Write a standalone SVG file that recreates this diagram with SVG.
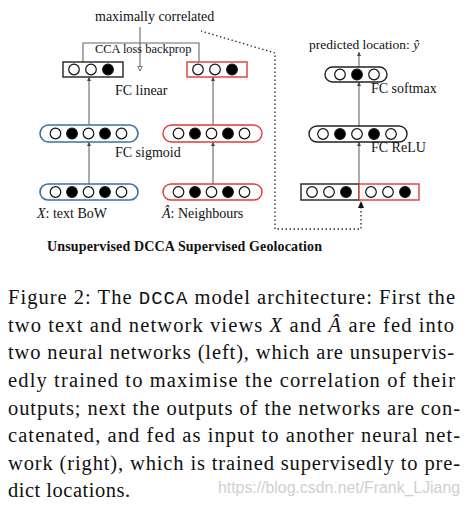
<svg xmlns="http://www.w3.org/2000/svg" width="469" height="506" viewBox="0 0 469 506">
<defs>
<style>
.t{font-family:"Liberation Serif","Times New Roman",serif;fill:#111}
.d{font-size:14px}
.cap{font-size:20.5px}
.mono{font-family:"Liberation Mono","Courier New",monospace;font-size:19px}
.it{font-style:italic}
.blue{fill:#fff;stroke:#3f6fa3;stroke-width:1.6}
.red{fill:#fff;stroke:#e23a3a;stroke-width:1.4}
.blk{fill:#fff;stroke:#222;stroke-width:1.4}
.o{fill:#fff;stroke:#111;stroke-width:1.2}
.f{fill:#000;stroke:#111;stroke-width:1.2}
.ln{stroke:#666;stroke-width:1.1;fill:none}
</style>
<marker id="ah" viewBox="0 0 6 6" refX="6" refY="3" markerWidth="4" markerHeight="4" markerUnits="userSpaceOnUse" orient="auto">
<path d="M0,0 L6,3 L0,6 z" fill="#444"/>
</marker>
<marker id="oh" viewBox="0 0 8 8" refX="7" refY="4" markerWidth="6" markerHeight="6" markerUnits="userSpaceOnUse" orient="auto">
<path d="M1,1 L7,4 L1,7 z" fill="#fff" stroke="#666" stroke-width="1.2"/>
</marker>
</defs>
<rect width="469" height="506" fill="#fff"/>

<g id="connectors">
<polyline class="ln" points="83,62 83,43 199,43 199,62" stroke="#555"/>
<line class="ln" x1="140" y1="27" x2="140" y2="71" marker-end="url(#oh)"/>
<line class="ln" x1="89" y1="184" x2="89" y2="142" marker-end="url(#ah)"/>
<line class="ln" x1="89" y1="125" x2="89" y2="77" marker-end="url(#ah)"/>
<line class="ln" x1="213" y1="184" x2="213" y2="142" marker-end="url(#ah)"/>
<line class="ln" x1="213" y1="125" x2="213" y2="77" marker-end="url(#ah)"/>
<line class="ln" x1="359" y1="184" x2="359" y2="142" marker-end="url(#ah)"/>
<line class="ln" x1="359" y1="126" x2="359" y2="82" marker-end="url(#ah)"/>
<line class="ln" x1="359" y1="67" x2="359" y2="52" marker-end="url(#ah)"/>
<path d="M361,207 L361,229 L275,229 L275,53 L201,31" fill="none" stroke="#222" stroke-width="1.3" stroke-dasharray="1.4 2.6"/>
<path d="M361,201 L364,208 L358,208 z" fill="#111"/>
</g>

<g id="cca-label">
<text class="t d" x="95" y="21">maximally correlated</text>
<text class="t" x="95" y="53" font-size="12.4">CCA loss backprop</text>
</g>

<g id="text-fc-linear">
<rect class="blk" x="63" y="62" width="60" height="15"/>
<circle class="o" cx="74" cy="69.5" r="5.3"/>
<circle class="o" cx="91" cy="69.5" r="5.3"/>
<circle class="f" cx="108" cy="69.5" r="5.3"/>
</g>
<g id="net-fc-linear">
<rect class="red" x="187" y="62" width="60" height="15"/>
<circle class="o" cx="198" cy="69.5" r="5.3"/>
<circle class="o" cx="215" cy="69.5" r="5.3"/>
<circle class="f" cx="232" cy="69.5" r="5.3"/>
</g>
<text class="t d" x="115" y="95">FC linear</text>

<g id="text-fc-sigmoid">
<rect class="blue" x="40" y="125" width="98" height="17" rx="8.5"/>
<circle class="o" cx="55.5" cy="133.5" r="5.3"/>
<circle class="f" cx="72" cy="133.5" r="5.3"/>
<circle class="o" cx="88.5" cy="133.5" r="5.3"/>
<circle class="f" cx="105" cy="133.5" r="5.3"/>
<circle class="o" cx="121.5" cy="133.5" r="5.3"/>
</g>
<g id="net-fc-sigmoid">
<rect class="red" x="163" y="125" width="99" height="17" rx="8.5"/>
<circle class="o" cx="178.5" cy="133.5" r="5.3"/>
<circle class="f" cx="195" cy="133.5" r="5.3"/>
<circle class="o" cx="211.5" cy="133.5" r="5.3"/>
<circle class="f" cx="228" cy="133.5" r="5.3"/>
<circle class="o" cx="244.5" cy="133.5" r="5.3"/>
</g>
<text class="t d" x="115" y="157">FC sigmoid</text>

<g id="text-input">
<rect class="blue" x="40" y="184" width="98" height="16" rx="8"/>
<circle class="o" cx="55.5" cy="192" r="5.3"/>
<circle class="f" cx="72" cy="192" r="5.3"/>
<circle class="o" cx="88.5" cy="192" r="5.3"/>
<circle class="f" cx="105" cy="192" r="5.3"/>
<circle class="o" cx="121.5" cy="192" r="5.3"/>
<text class="t d" x="37" y="218"><tspan class="it">X</tspan>: text BoW</text>
</g>
<g id="net-input">
<rect class="red" x="163" y="184" width="99" height="16" rx="8"/>
<circle class="o" cx="178.5" cy="192" r="5.3"/>
<circle class="f" cx="195" cy="192" r="5.3"/>
<circle class="o" cx="211.5" cy="192" r="5.3"/>
<circle class="f" cx="228" cy="192" r="5.3"/>
<circle class="o" cx="244.5" cy="192" r="5.3"/>
<text class="t d" x="162" y="218"><tspan class="it">Â</tspan>: Neighbours</text>
</g>

<g id="concat">
<rect class="blk" x="301" y="184" width="58" height="16"/>
<rect class="red" x="359" y="184" width="60" height="16"/>
<circle class="o" cx="312" cy="192" r="5.3"/>
<circle class="o" cx="329" cy="192" r="5.3"/>
<circle class="f" cx="346" cy="192" r="5.3"/>
<circle class="o" cx="371" cy="192" r="5.3"/>
<circle class="o" cx="388" cy="192" r="5.3"/>
<circle class="f" cx="405" cy="192" r="5.3"/>
</g>
<g id="fc-relu">
<rect class="blk" x="309" y="126" width="98" height="16" rx="8"/>
<circle class="o" cx="323" cy="134" r="5.3"/>
<circle class="f" cx="340" cy="134" r="5.3"/>
<circle class="o" cx="357" cy="134" r="5.3"/>
<circle class="f" cx="374" cy="134" r="5.3"/>
<circle class="o" cx="391" cy="134" r="5.3"/>
<text class="t d" x="371" y="152">FC ReLU</text>
</g>
<g id="fc-softmax">
<rect class="blk" x="325" y="67" width="62" height="15" rx="7.5"/>
<circle class="o" cx="340" cy="74.5" r="5.3"/>
<circle class="f" cx="357" cy="74.5" r="5.3"/>
<circle class="o" cx="374" cy="74.5" r="5.3"/>
<text class="t d" x="371" y="93">FC softmax</text>
</g>
<g id="output">
<text class="t" x="309" y="49" font-size="13.5">predicted location: <tspan class="it">ŷ</tspan></text>
</g>

<text class="t" x="47" y="251" font-size="14" font-weight="bold" textLength="275" lengthAdjust="spacing">Unsupervised DCCA Supervised Geolocation</text>

<g id="caption">
<text class="t cap" x="8" y="304" textLength="447" lengthAdjust="spacing">Figure 2: The <tspan class="mono">DCCA</tspan> model architecture: First the</text>
<text class="t cap" x="8" y="332" textLength="446" lengthAdjust="spacing">two text and network views <tspan class="it">X</tspan> and <tspan class="it">Â</tspan> are fed into</text>
<text class="t cap" x="8" y="359" textLength="446" lengthAdjust="spacing">two neural networks (left), which are unsupervis-</text>
<text class="t cap" x="8" y="387" textLength="447" lengthAdjust="spacing">edly trained to maximise the correlation of their</text>
<text class="t cap" x="8" y="415" textLength="452" lengthAdjust="spacing">outputs; next the outputs of the networks are con-</text>
<text class="t cap" x="8" y="442" textLength="452" lengthAdjust="spacing">catenated, and fed as input to another neural net-</text>
<text class="t cap" x="8" y="470" textLength="452" lengthAdjust="spacing">work (right), which is trained supervisedly to pre-</text>
<text class="t cap" x="8" y="497" textLength="122" lengthAdjust="spacing">dict locations.</text>
</g>
<text x="218" y="493" font-family="Liberation Sans, Arial, sans-serif" font-size="16" fill="#cfcfcf" textLength="242" lengthAdjust="spacingAndGlyphs">https://blog.csdn.net/Frank_LJiang</text>
</svg>
